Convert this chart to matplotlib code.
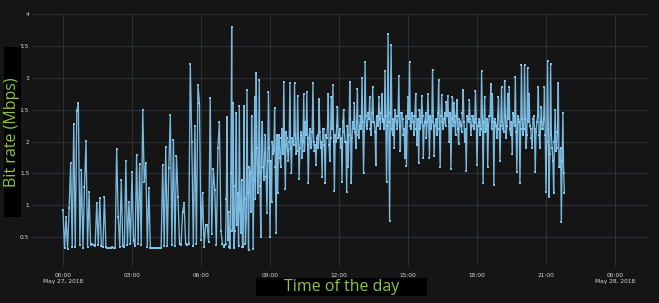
import numpy as np
import pandas as pd
import matplotlib
matplotlib.use("Agg")
import matplotlib.pyplot as plt
from matplotlib.patches import Rectangle

# Bit rate (Mbps), May 27, 2018.
# 00:00-06:56: one sample every 4 minutes (one row per hour)
h00 = [0.92, 0.33, 0.82, 0.31, 0.96, 1.67, 0.34, 2.28, 0.35, 2.48, 2.61, 0.38, 1.55, 0.33, 1.29]
h01 = [2.01, 0.35, 1.21, 0.38, 0.39, 0.38, 0.37, 1.04, 0.38, 1.12, 0.36, 0.34, 1.13, 0.34, 0.33]
h02 = [0.33, 0.33, 0.34, 0.33, 0.33, 1.89, 0.82, 0.35, 1.40, 0.36, 0.34, 1.69, 0.38, 1.05, 0.40]
h03 = [1.53, 0.45, 0.36, 1.79, 0.40, 1.65, 0.38, 2.50, 1.37, 1.67, 0.35, 1.27, 0.33, 0.33, 0.33]
h04 = [0.33, 0.33, 0.33, 0.33, 0.33, 1.63, 0.36, 1.92, 0.37, 1.59, 2.41, 0.38, 2.03, 0.37, 1.78]
h05 = [1.13, 0.39, 0.38, 0.90, 1.03, 0.40, 0.38, 0.40, 3.22, 2.00, 0.36, 2.25, 0.40, 2.89, 2.61]
h06 = [0.45, 1.20, 0.35, 0.69, 0.70, 0.42, 2.69, 0.55, 1.57, 1.24, 0.38, 1.90, 2.31, 0.60, 0.40]

# 07:00 onward: samples every 2 minutes; "a" = on the 4-minute marks, "b" = the minutes between
h07a = [0.35, 0.40, 2.39, 0.90, 0.33, 3.80, 2.61, 0.60, 2.45, 1.20, 2.56, 0.57, 0.35, 2.56, 0.40]
h07b = [0.38, 1.10, 0.45, 0.34, 1.50, 0.60, 0.33, 1.30, 0.70, 0.36, 0.95, 1.40, 0.34, 1.10, 0.80]
h08a = [2.81, 0.30, 1.50, 2.40, 0.32, 2.70, 3.08, 1.20, 2.97, 0.50, 2.30, 1.40, 2.10, 0.88, 2.78]
h08b = [1.20, 1.60, 0.90, 1.80, 1.40, 1.10, 1.90, 1.50, 1.30, 2.00, 1.60, 1.80, 1.45, 1.70, 1.90]
h09a = [0.50, 1.05, 1.80, 2.53, 0.57, 1.19, 2.10, 1.60, 2.20, 2.94, 1.25, 2.05, 1.70, 2.92, 1.50]
h09b = [1.70, 2.00, 1.85, 1.60, 2.10, 1.90, 1.75, 2.05, 1.80, 1.95, 2.15, 1.85, 2.00, 1.90, 2.05]
h10a = [2.00, 2.92, 1.80, 2.72, 1.41, 2.10, 1.75, 2.74, 2.30, 2.77, 1.35, 2.20, 1.90, 2.92, 1.85]
h10b = [1.95, 2.10, 1.85, 2.05, 1.90, 2.15, 2.00, 1.85, 2.10, 1.95, 2.05, 1.90, 2.15, 2.00, 1.95]
h11a = [1.63, 2.10, 2.67, 1.90, 1.45, 2.20, 1.35, 2.05, 2.75, 1.70, 2.70, 2.89, 1.23, 2.00, 2.55]
h11b = [2.05, 1.90, 2.15, 2.00, 2.20, 1.95, 2.10, 2.25, 1.95, 2.05, 2.20, 2.00, 2.10, 2.25, 2.05]
h12a = [2.10, 1.90, 1.37, 2.50, 2.00, 1.21, 1.60, 2.94, 1.35, 2.30, 2.60, 1.90, 2.83, 2.05, 2.40]
h12b = [2.20, 2.05, 2.30, 2.15, 2.00, 2.25, 2.10, 2.35, 2.05, 2.20, 2.15, 2.30, 2.10, 2.25, 2.20]
h13a = [3.00, 1.51, 3.25, 2.20, 2.45, 2.70, 2.10, 2.86, 2.30, 1.63, 2.40, 2.70, 2.20, 2.75, 2.35]
h13b = [2.30, 2.15, 2.40, 2.25, 2.35, 2.20, 2.45, 2.30, 2.15, 2.40, 2.25, 2.35, 2.45, 2.30, 2.20]
h14a = [3.10, 1.37, 3.69, 0.75, 3.52, 2.10, 1.90, 2.40, 2.20, 3.03, 1.85, 2.45, 2.10, 1.75, 1.62]
h14b = [2.40, 2.25, 2.30, 2.45, 2.20, 2.35, 2.50, 2.30, 2.40, 2.25, 2.45, 2.35, 2.20, 2.40, 2.30]
h15a = [2.70, 3.24, 2.20, 2.40, 2.10, 2.75, 1.95, 1.67, 2.20, 2.72, 1.75, 2.30, 2.05, 2.75, 1.75]
h15b = [2.35, 2.25, 2.45, 2.30, 2.40, 2.20, 2.35, 2.50, 2.30, 2.40, 2.25, 2.45, 2.30, 2.35, 2.40]
h16a = [2.20, 3.13, 1.78, 2.30, 2.10, 2.96, 1.60, 2.73, 2.20, 2.45, 2.62, 2.72, 2.00, 1.57, 2.70]
h16b = [2.30, 2.40, 2.25, 2.35, 2.45, 2.20, 2.40, 2.30, 2.35, 2.25, 2.40, 2.30, 2.45, 2.35, 2.25]
h17a = [2.60, 2.10, 2.65, 1.97, 2.30, 2.15, 2.81, 2.00, 1.54, 2.35, 2.65, 2.10, 2.40, 2.20, 2.80]
h17b = [2.30, 2.40, 2.20, 2.35, 2.25, 2.45, 2.30, 2.20, 2.40, 2.30, 2.35, 2.25, 2.40, 2.30, 2.35]
h18a = [1.63, 2.30, 2.10, 3.10, 1.35, 2.70, 2.20, 1.60, 2.40, 2.91, 2.75, 1.32, 2.30, 2.05, 2.70]
h18b = [2.25, 2.35, 2.20, 2.40, 2.30, 2.15, 2.35, 2.25, 2.40, 2.20, 2.30, 2.35, 2.25, 2.40, 2.20]
h19a = [1.70, 2.85, 2.20, 2.95, 2.05, 2.75, 2.86, 2.10, 1.80, 2.40, 3.02, 1.53, 2.40, 1.35, 3.20]
h19b = [2.25, 2.30, 2.15, 2.40, 2.25, 2.35, 2.20, 2.30, 2.45, 2.25, 2.15, 2.35, 2.30, 2.20, 2.35]
h20a = [2.10, 3.20, 1.90, 3.16, 2.75, 2.20, 1.90, 2.40, 1.53, 2.30, 2.85, 1.90, 2.55, 2.20, 2.85]
h20b = [2.20, 2.35, 2.10, 2.30, 2.25, 2.05, 2.35, 2.20, 2.15, 2.40, 2.10, 2.30, 2.20, 2.35, 2.10]
h21a = [1.21, 3.27, 1.13, 3.22, 1.90, 1.19, 2.50, 1.90, 2.92, 1.60, 0.74, 2.45, 1.20]
h21b = [2.00, 2.20, 1.80, 2.10, 1.70, 2.00, 1.85, 2.15, 1.60, 1.90, 1.70, 1.50]

y_ticks = [0.5, 1, 1.5, 2, 2.5, 3, 3.5, 4]
y_tick_labels = ["0.5", "1", "1.5", "2", "2.5", "3", "3.5", "4"]
x_tick_labels = ["00:00\nMay 27, 2018", "03:00", "06:00", "09:00", "12:00",
                 "15:00", "18:00", "21:00", "00:00\nMay 28, 2018"]


def interleave(a, b):
    out = []
    for i, v in enumerate(a):
        out.append(v)
        if i < len(b):
            out.append(b[i])
    return out


early = h00 + h01 + h02 + h03 + h04 + h05 + h06
late_pairs = [(h07a, h07b), (h08a, h08b), (h09a, h09b), (h10a, h10b), (h11a, h11b),
              (h12a, h12b), (h13a, h13b), (h14a, h14b), (h15a, h15b), (h16a, h16b),
              (h17a, h17b), (h18a, h18b), (h19a, h19b), (h20a, h20b), (h21a, h21b)]
late = []
for a, b in late_pairs:
    late += interleave(a, b)

t_early = pd.date_range("2018-05-27 00:00", periods=len(early), freq="4min")
t_late = pd.date_range("2018-05-27 07:00", periods=len(late), freq="2min")
times = t_early.append(t_late)
bitrate = early + late

x_ticks = pd.date_range("2018-05-27 00:00", "2018-05-28 00:00", freq="3h")

W, H = 659, 303
fig = plt.figure(figsize=(W / 100, H / 100), dpi=100)
fig.patch.set_facecolor("#151515")

ax_left, ax_right, ax_top, ax_bottom = 32, 648, 14, 266
ax = fig.add_axes([ax_left / W, 1 - ax_bottom / H,
                   (ax_right - ax_left) / W, (ax_bottom - ax_top) / H])
ax.set_facecolor("#151515")

line_color = "#86ccf4"
ax.plot(times, bitrate, color=line_color, lw=0.95, alpha=0.9,
        marker="s", markersize=1.8, markeredgewidth=0, zorder=3)

t0 = pd.Timestamp("2018-05-27 00:00")
px_per_hour = 23.0
xmin = t0 + pd.Timedelta(hours=(ax_left - 63) / px_per_hour)
xmax = t0 + pd.Timedelta(hours=(ax_right - 63) / px_per_hour)
ax.set_xlim(xmin, xmax)
ax.set_ylim(0.05, 4.0)

ax.set_yticks(y_ticks)
ax.set_yticklabels(y_tick_labels)
ax.set_xticks(x_ticks)
ax.set_xticklabels(x_tick_labels, linespacing=1.3)

ax.grid(True, color="#2a2e35", lw=0.8)
ax.set_axisbelow(True)
ax.tick_params(axis="both", length=0, labelsize=4.2, colors="#d8d8d8")
ax.tick_params(axis="y", pad=2)
ax.tick_params(axis="x", pad=5)
for s in ax.spines.values():
    s.set_visible(False)

# label boxes
ylab_box = (4, 47, 21, 217)
xlab_box = (256, 278, 427, 296)
label_color = "#8dc63f"
for (x0, y0, x1, y1) in (ylab_box, xlab_box):
    fig.patches.append(Rectangle((x0 / W, 1 - y1 / H), (x1 - x0) / W, (y1 - y0) / H,
                                 transform=fig.transFigure, facecolor="black",
                                 edgecolor="none", zorder=1))
fig.text((ylab_box[0] + ylab_box[2]) / 2 / W, 1 - (ylab_box[1] + ylab_box[3]) / 2 / H,
         "Bit rate (Mbps)", rotation=90, ha="center", va="center",
         color=label_color, fontsize=11.5, family="Open Sans", zorder=2)
fig.text((xlab_box[0] + xlab_box[2]) / 2 / W, 1 - (xlab_box[1] + xlab_box[3]) / 2 / H,
         "Time of the day", ha="center", va="center",
         color=label_color, fontsize=11.5, family="Open Sans", zorder=2)

fig.savefig("out.png", dpi=100, facecolor=fig.get_facecolor())
